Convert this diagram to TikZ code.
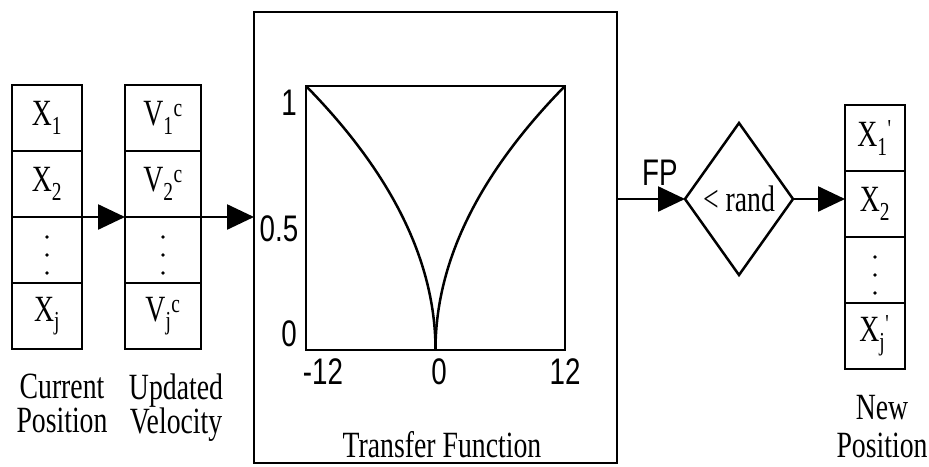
\documentclass[tikz,border=0pt]{standalone}
\usepackage{fontspec}
\setmainfont{Liberation Serif}[FakeStretch=0.75]
\newfontfamily\axisfont{Liberation Sans}[FakeStretch=0.75]
\usetikzlibrary{arrows.meta,positioning,shapes.geometric}

\newcommand{\primed}[2]{#1\textsubscript{#2}\textsuperscript{\textquotesingle}}

\begin{document}
\begin{tikzpicture}[x=1pt, y=-1pt, node distance=66pt, on grid, line width=2.5pt,
    cell/.style={draw, inner sep=0pt, outer sep=0pt, minimum width=70pt,
      minimum height=66pt, font=\fontsize{37}{40}\selectfont},
    lab/.style={inner sep=0pt, align=center, font=\fontsize{37}{34}\selectfont},
    num/.style={inner sep=0pt, font=\axisfont\fontsize{37}{40}\selectfont},
    flow/.style={-{Triangle[length=27pt,width=25pt]}}]
    \useasboundingbox (0,0) rectangle (929,466);

    % current position
    \node[cell] (x1) at (47,118) {X\textsubscript{1}};
    \node[cell] (x2) [below=of x1] {X\textsubscript{2}};
    \node[cell] (x3) [below=of x2] {};
    \node[cell] (x4) [below=of x3] {X\textsubscript{j}};
    \node[lab, anchor=north] (cur) at (62,373) {Current\\Position};

    % updated velocity
    \node[cell, minimum width=76pt] (v1) at (163,118) {V\textsubscript{1}\textsuperscript{c}};
    \node[cell, minimum width=76pt] (v2) [below=of v1] {V\textsubscript{2}\textsuperscript{c}};
    \node[cell, minimum width=76pt] (v3) [below=of v2] {};
    \node[cell, minimum width=76pt] (v4) [below=of v3] {V\textsubscript{j}\textsuperscript{c}};
    \node[lab, anchor=north] (upd) at (176,373) {Updated\\Velocity};

    % transfer function
    \node[draw, inner sep=0pt, outer sep=0pt, minimum width=363pt,
      minimum height=451pt] (tf) at (435.5,237.5) {};
    \draw (306,86) rectangle (565,350);
    \draw plot[domain=0:1, samples=40, smooth, variable=\s]
      ({435.5+129.5*\s*\s},{350-264*\s});
    \draw plot[domain=0:1, samples=40, smooth, variable=\s]
      ({435.5-129.5*\s*\s},{350-264*\s});
    \node[num] (y1) at (289,103) {1};
    \node[num] (y05) at (279,229) {0.5};
    \node[num] (y0) at (289,334) {0};
    \node[num] (xm) at (323,372) {-12};
    \node[num] (xz) at (439,372) {0};
    \node[num] (xp) at (565,372) {12};
    \node[lab, anchor=base] (tfl) at (442,457) {Transfer Function};

    % decision
    \node[draw, diamond, inner sep=0pt, outer sep=0pt, minimum width=108pt,
      minimum height=152pt, font=\fontsize{37}{40}\selectfont] (dm) at (739,199) {< rand};

    % new position
    \node[cell, minimum width=60pt] (n1) at (875,138) {\primed{X}{1}};
    \node[cell, minimum width=60pt] (n2) [below=of n1] {X\textsubscript{2}};
    \node[cell, minimum width=60pt] (n3) [below=of n2] {};
    \node[cell, minimum width=60pt] (n4) [below=of n3] {\primed{X}{j}};
    \node[lab, anchor=north] (new) at (882,394) {New\\[4pt]Position};

    % vertical dots
    \foreach \c in {x3,v3,n3}
      \foreach \d in {-13,5,23}
        \fill ([yshift=-\d pt]\c.center) circle (1.8pt);

    \draw[flow] (x2.south west) -- (v2.south west);
    \draw[flow] (v2.south west) -- (v2.south west -| tf.west);
    \draw[flow] (dm.west -| tf.east) -- node[num, pos=.63, above=12pt] {FP} (dm.west);
    \draw[flow] (dm.east) -- (dm.east -| n2.west);
\end{tikzpicture}
\end{document}
